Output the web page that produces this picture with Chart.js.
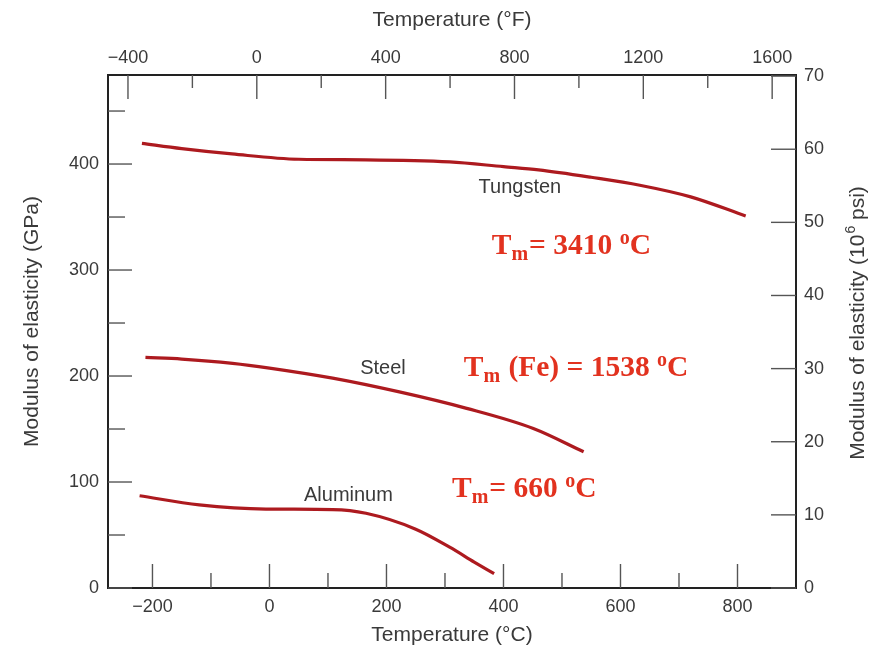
<!DOCTYPE html>
<html>
<head>
<meta charset="utf-8">
<script src="https://cdn.jsdelivr.net/npm/chart.js@4.4.0/dist/chart.umd.min.js"></script>
<style>
  html, body { margin: 0; padding: 0; background: #fff; }
  #wrap { width: 873px; height: 647px; }
</style>
</head>
<body>
<div id="wrap"><canvas id="modulusChart" width="873" height="647"></canvas></div>
<script>
// temperature (°C) vs modulus of elasticity (GPa)
const tungstenTemp = [-218, -150, -64, 50, 165, 308, 400, 460, 550, 633, 720, 814];
const tungstenMod  = [419.5, 414.5, 409.5, 404.5, 404, 402, 397.5, 394.5, 387.5, 380, 369, 351];
const steelTemp = [-212, -150, -63, 0, 108, 222, 337, 451, 537];
const steelMod  = [217.5, 216, 212, 207.5, 198, 185, 169.5, 150.5, 128.5];
const aluminumTemp = [-222, -120, -6, 108, 165, 250, 308, 350, 384];
const aluminumMod  = [87, 78.5, 74.5, 74, 70.5, 55.5, 38.5, 24.5, 13.5];

const celsiusTicks = [-200, 0, 200, 400, 600, 800];
const celsiusMinor = [-100, 100, 300, 500, 700];
const fahrenheitTicks = [-400, 0, 400, 800, 1200, 1600];
const fahrenheitMinor = [-200, 200, 600, 1000, 1400];
const gpaTicks = [0, 100, 200, 300, 400];
const gpaMinor = [50, 150, 250, 350, 450];
const psiTicks = [0, 10, 20, 30, 40, 50, 60, 70];

const curveNames = ['Tungsten', 'Steel', 'Aluminum'];
const nameTemp = [428, 194, 135];
const nameMod = [378, 207, 87];

const meltMiddle = ['= ', ' (Fe) = ', '= '];
const meltValue = ['3410', '1538', '660'];
const meltTemp = [380, 332, 312];
const meltMod = [315, 200, 86];

const RED_LINE = '#ad1a1f';
const RED_TEXT = '#e2321f';
const INK = '#3a3a3a';

const pts = (xs, ys) => xs.map((x, i) => ({ x: x, y: ys[i] }));
const minus = v => v < 0 ? '\u2212' + Math.abs(v) : String(v);
const fixTicks = arr => scale => { scale.ticks = arr.map(v => ({ value: v })); };

const inwardTicks = {
    id: 'inwardTicks',
    beforeDatasetsDraw(chart) {
        const { ctx, chartArea: a, scales } = chart;
        ctx.save();
        ctx.strokeStyle = '#555'; ctx.lineWidth = 1.4;
        const line = (x1, y1, x2, y2) => { ctx.beginPath(); ctx.moveTo(x1, y1); ctx.lineTo(x2, y2); ctx.stroke(); };
        celsiusTicks.forEach(v => { let x = scales.x.getPixelForValue(v); line(x, a.bottom, x, a.bottom - 24); });
        celsiusMinor.forEach(v => { let x = scales.x.getPixelForValue(v); line(x, a.bottom, x, a.bottom - 15); });
        fahrenheitTicks.forEach(v => { let x = scales.x2.getPixelForValue(v); line(x, a.top, x, a.top + 24); });
        fahrenheitMinor.forEach(v => { let x = scales.x2.getPixelForValue(v); line(x, a.top, x, a.top + 13); });
        gpaTicks.forEach(v => { let y = scales.y.getPixelForValue(v); line(a.left, y, a.left + 24, y); });
        gpaMinor.forEach(v => { let y = scales.y.getPixelForValue(v); line(a.left, y, a.left + 17, y); });
        psiTicks.forEach(v => { let y = scales.y2.getPixelForValue(v); line(a.right, y, a.right - 25, y); });
        ctx.restore();
    },
    afterDraw(chart) {
        const { ctx, chartArea: a, scales } = chart;
        ctx.save();
        // curve names
        ctx.fillStyle = INK; ctx.font = '20px "Liberation Sans", Arial, sans-serif';
        ctx.textAlign = 'center'; ctx.textBaseline = 'middle';
        curveNames.forEach((n, i) => ctx.fillText(n, scales.x.getPixelForValue(nameTemp[i]), scales.y.getPixelForValue(nameMod[i])));

        // axis titles
        const cx = (a.left + a.right) / 2, cy = (a.top + a.bottom) / 2;
        ctx.font = '21px "Liberation Sans", Arial, sans-serif';
        ctx.fillText('Temperature (°F)', cx, 20);
        ctx.fillText('Temperature (°C)', cx, 635);
        ctx.save(); ctx.translate(32, cy - 10); ctx.rotate(-Math.PI / 2);
        ctx.fillText('Modulus of elasticity (GPa)', 0, 0); ctx.restore();

        // right title with a real superscript 6
        ctx.save(); ctx.translate(858, cy - 8); ctx.rotate(-Math.PI / 2);
        ctx.textAlign = 'left';
        const head = 'Modulus of elasticity (10', tail = ' psi)';
        const supFont = '14px "Liberation Sans", Arial, sans-serif';
        let w1 = ctx.measureText(head).width, w3 = ctx.measureText(tail).width;
        ctx.font = supFont; let w2 = ctx.measureText('6').width;
        let x0 = -(w1 + w2 + w3) / 2;
        ctx.font = '21px "Liberation Sans", Arial, sans-serif';
        ctx.fillText(head, x0, 0);
        ctx.font = supFont; ctx.fillText('6', x0 + w1 + 1, -7);
        ctx.font = '21px "Liberation Sans", Arial, sans-serif';
        ctx.fillText(tail, x0 + w1 + w2 + 1, 0);
        ctx.restore();

        // melting temperatures
        ctx.fillStyle = RED_TEXT; ctx.textAlign = 'left'; ctx.textBaseline = 'alphabetic';
        const big = 'bold 29.5px "Liberation Serif", "Times New Roman", serif';
        const small = 'bold 20px "Liberation Serif", "Times New Roman", serif';
        meltValue.forEach((val, i) => {
            let x = scales.x.getPixelForValue(meltTemp[i]);
            let y = scales.y.getPixelForValue(meltMod[i]);
            ctx.font = big; ctx.fillText('T', x, y); x += ctx.measureText('T').width;
            ctx.font = small; ctx.fillText('m', x, y + 6); x += ctx.measureText('m').width + 1;
            ctx.font = big; let s = meltMiddle[i] + val + ' ';
            ctx.fillText(s, x, y); x += ctx.measureText(s).width;
            ctx.font = small; ctx.fillText('o', x, y - 10); x += ctx.measureText('o').width;
            ctx.font = big; ctx.fillText('C', x, y);
        });
        ctx.restore();
    }
};

const lineStyle = { borderColor: RED_LINE, borderWidth: 3.2, pointRadius: 0, cubicInterpolationMode: 'monotone', fill: false, xAxisID: 'x', yAxisID: 'y' };
const tickFont = { family: '"Liberation Sans", Arial, sans-serif', size: 18 };
const axisBorder = { display: true, color: '#222', width: 2 };
const noGrid = { drawOnChartArea: false, drawTicks: false };

new Chart(document.getElementById('modulusChart').getContext('2d'), {
    type: 'line',
    data: {
        datasets: [
            Object.assign({ label: 'Tungsten', data: pts(tungstenTemp, tungstenMod) }, lineStyle),
            Object.assign({ label: 'Steel', data: pts(steelTemp, steelMod) }, lineStyle),
            Object.assign({ label: 'Aluminum', data: pts(aluminumTemp, aluminumMod) }, lineStyle)
        ]
    },
    options: {
        responsive: false, animation: false, devicePixelRatio: 1,
        layout: { padding: 0 },
        plugins: { legend: { display: false }, tooltip: { enabled: false } },
        scales: {
            x: { type: 'linear', position: 'bottom', min: -276, max: 900, border: axisBorder, grid: noGrid,
                 afterBuildTicks: fixTicks(celsiusTicks), afterFit: s => { s.height = 59; },
                 ticks: { font: tickFont, color: INK, padding: 8, maxRotation: 0, callback: minus } },
            x2: { type: 'linear', position: 'top', min: -462, max: 1674, border: axisBorder, grid: noGrid,
                  afterBuildTicks: fixTicks(fahrenheitTicks), afterFit: s => { s.height = 75; },
                  ticks: { font: tickFont, color: INK, padding: 6, maxRotation: 0, callback: minus } },
            y: { type: 'linear', position: 'left', min: 0, max: 484, border: axisBorder, grid: noGrid,
                 afterBuildTicks: fixTicks(gpaTicks), afterFit: s => { s.width = 108; },
                 ticks: { font: tickFont, color: INK, padding: 9 } },
            y2: { type: 'linear', position: 'right', min: 0, max: 70.15, border: axisBorder, grid: noGrid,
                  afterBuildTicks: fixTicks(psiTicks), afterFit: s => { s.width = 77; },
                  ticks: { font: tickFont, color: INK, padding: 8 } }
        }
    },
    plugins: [inwardTicks]
});
</script>
</body>
</html>
